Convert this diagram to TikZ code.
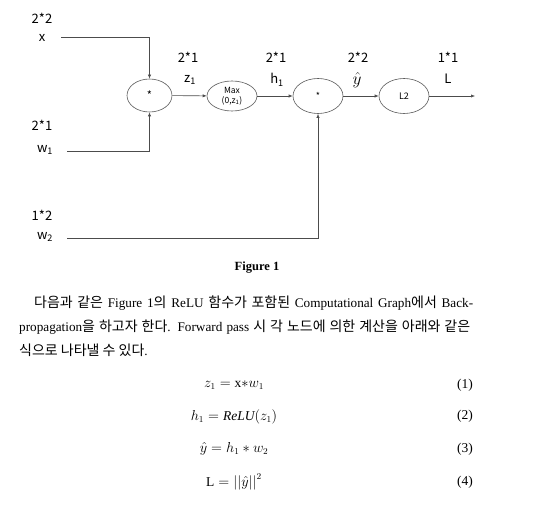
\documentclass[tikz,border=0pt]{standalone}
\usepackage{amsmath}
\usepackage{fontspec}
\setmainfont{Liberation Serif}
\newfontfamily\krfont[Scale=1.06]{Noto Sans CJK KR}
\newfontfamily\lblfont{Noto Sans CJK KR}
\usetikzlibrary{positioning, shapes.geometric, arrows.meta}
\newcommand{\kr}[1]{{\krfont #1}}

\begin{document}
\begin{tikzpicture}[x=1pt, y=-1pt,
  op node/.style={ellipse, draw=black!65, line width=0.6pt, inner sep=0pt,
    minimum width=50pt, minimum height=35pt, font=\lblfont\fontsize{9}{10}\selectfont},
  lbl/.style={inner sep=0pt, font=\lblfont\fontsize{13}{15}\selectfont},
  conn/.style={draw=black!70, line width=0.6pt},
  arr/.style={conn, -{Latex[length=4pt, width=3.2pt]}},
  body/.style={inner sep=0pt, anchor=west, font=\fontsize{13.2}{15}\selectfont},
  eqn/.style={inner sep=0pt, font=\fontsize{13.5}{16}\selectfont}]

\useasboundingbox (0,0) rectangle (534,529);

\node[op node, minimum width=45pt, minimum height=33pt, font=\lblfont\fontsize{11}{12}\selectfont] (mul1) at (149.5,95.5) {*};
\node[op node, minimum height=30pt, align=center, font=\lblfont\fontsize{8.5}{10}\selectfont]
  (relu) at (232,96) {Max\\(0,z\textsubscript{1})};
\node[op node] (mul2) at (318,96) {*};
\node[op node] (loss) at (404,96) {L2};

\coordinate (xin) at (61,37.5);
\coordinate (win1) at (67,151);
\coordinate (win2) at (67,238);
\coordinate (out) at (475,96);

\node[lbl] (dimx) at (42,18) {2*2};
\node[lbl] (namex) at (42,38) {x};
\node[lbl] (dimw1) at (42,125) {2*1};
\node[lbl] (namew1) at (45,150) {w\textsubscript{1}};
\node[lbl] (dimw2) at (42,215) {1*2};
\node[lbl] (namew2) at (45,237) {w\textsubscript{2}};
\node[lbl] (dimz) at (188,57) {2*1};
\node[lbl] (namez) at (190,80) {z\textsubscript{1}};
\node[lbl] (dimh) at (276,57) {2*1};
\node[lbl] (nameh) at (277,80) {h\textsubscript{1}};
\node[lbl] (dimy) at (358,57) {2*2};
\node[lbl, font=\fontsize{16}{18}\selectfont] (namey) at (357,80) {$\hat{y}$};
\node[lbl] (diml) at (448,57) {1*1};
\node[lbl] (namel) at (448,79) {L};

\draw[arr] (xin) -| (mul1);
\draw[arr] (win1) -| (mul1);
\draw[arr] (mul1) -- (relu);
\draw[arr] (relu) -- (mul2);
\draw[arr] (win2) -| (mul2);
\draw[arr] (mul2) -- (loss);
\draw[arr] (loss) -- (out);

\node[eqn, font=\bfseries\fontsize{12.5}{14}\selectfont] (cap) at (257,268) {Figure 1};

\node[body] (par1) at (34,303) {\makebox[439pt][s]{\kr{다음과 같은} Figure 1\kr{의} ReLU \kr{함수가 포함된} Computational Graph\kr{에서} Back-}};
\node[body] (par2) at (19,327) {\makebox[451pt][s]{propagation\kr{을 하고자 한다}. Forward pass \kr{시 각 노드에 의한 계산을 아래와 같은}}};
\node[body] (par3) at (19,350) {\kr{식으로 나타낼 수 있다}.};

\node[eqn] (eq1) at (234,385) {$z_1 = \mathrm{x}{*}w_1$};
\node[eqn] (eq2) at (234,416.5) {$h_1 = \mathit{ReLU}(z_1)$};
\node[eqn] (eq3) at (234,449) {$\hat{y} = h_1 * w_2$};
\node[eqn] (eq4) at (234,482) {$\mathrm{L} = \left|\left|\hat{y}\right|\right|^2$};
\node[eqn] (tag1) at (465,385) {(1)};
\node[eqn] (tag2) at (465,416.5) {(2)};
\node[eqn] (tag3) at (465,449) {(3)};
\node[eqn] (tag4) at (465,482) {(4)};
\end{tikzpicture}
\end{document}
